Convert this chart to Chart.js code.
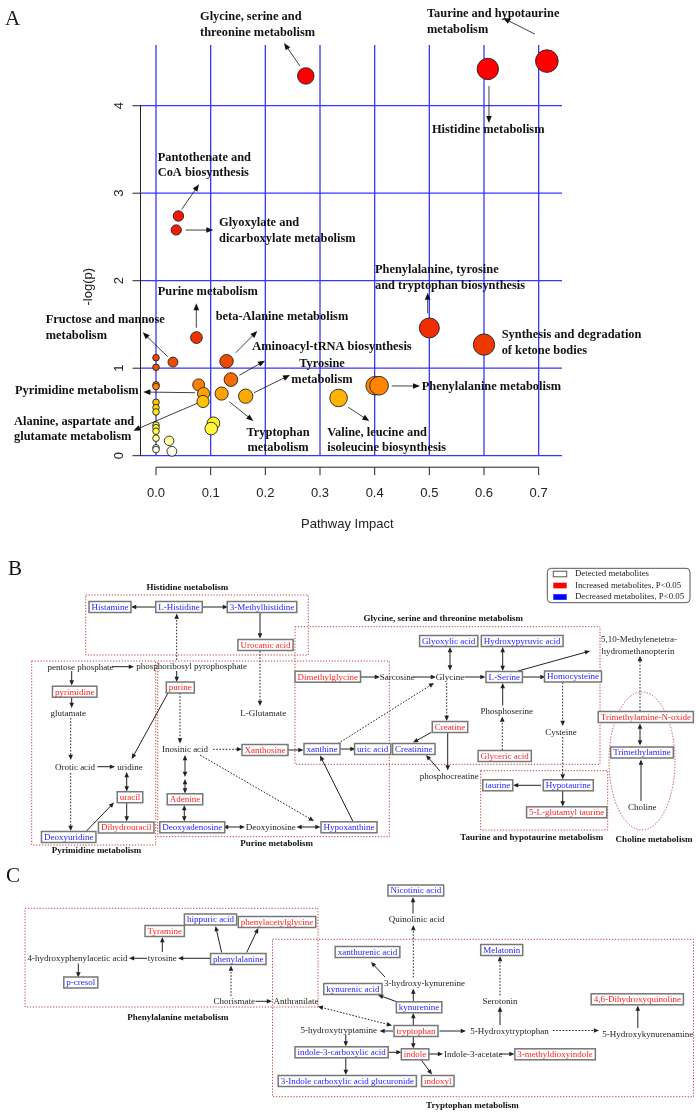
<!DOCTYPE html>
<html>
<head>
<meta charset="utf-8">
<title>Pathway analysis and metabolic networks</title>
<script src="https://cdn.jsdelivr.net/npm/chart.js@4.4.1/dist/chart.umd.min.js"></script>
<style>
  html, body { margin: 0; padding: 0; background: #fff; }
  body { width: 697px; height: 1114px; position: relative; overflow: hidden; }
  canvas { position: absolute; left: 0; }
  #chartA { top: 0; }
  #chartB { top: 555px; }
  #chartC { top: 860px; }
</style>
</head>
<body>
<canvas id="chartA" width="697" height="555"></canvas>
<canvas id="chartB" width="697" height="305"></canvas>
<canvas id="chartC" width="697" height="254"></canvas>
<script>
// =========================================
// Panel A data: pathway impact vs -log(p)
// =========================================
const impact = [0.715, 0.607, 0.274, 0.041, 0.037, 0.500, 0.074, 0.600, 0.129, 0.031,
  0.137, 0.078, 0.087, 0.086, 0.120, 0.164, 0.334, 0.401, 0.408, 0.105, 0.101,
  0, 0, 0, 0, 0, 0, 0, 0, 0, 0, 0, 0, 0, 0.024, 0.029];
const negLogP = [4.51, 4.42, 4.34, 2.74, 2.58, 1.46, 1.35, 1.27, 1.08, 1.07,
  0.87, 0.81, 0.71, 0.62, 0.71, 0.68, 0.66, 0.80, 0.80, 0.37, 0.31,
  1.12, 1.01, 0.81, 0.79, 0.61, 0.55, 0.50, 0.35, 0.32, 0.28, 0.20, 0.09, 0.07, 0.17, 0.05];
const xTicks = [0, 0.1, 0.2, 0.3, 0.4, 0.5, 0.6, 0.7];
const xTickLabels = ['0.0', '0.1', '0.2', '0.3', '0.4', '0.5', '0.6', '0.7'];
const yTicks = [0, 1, 2, 3, 4];

// labels with arrows, in data units: [lines, x, y, align, arrow]
const pathwayLabels = [
  [['Glycine, serine and', 'threonine metabolism'], 0.0805, 5.014, 'left', [0.2634, 4.454, 0.2341, 4.717]],
  [['Taurine and hypotaurine', 'metabolism'], 0.4957, 5.05, 'left', [0.6932, 4.819, 0.6347, 5.002]],
  [['Histidine metabolism'], 0.5048, 3.722, 'left', [0.6091, 4.225, 0.6091, 3.802]],
  [['Pantothenate and', 'CoA biosynthesis'], 0.0031, 3.406, 'left', [0.047, 2.816, 0.0787, 3.102]],
  [['Glyoxylate and', 'dicarboxylate metabolism'], 0.1152, 2.663, 'left', [0.0543, 2.579, 0.1048, 2.579]],
  [['Purine metabolism'], 0.0031, 1.879, 'left', [0.0737, 1.463, 0.0737, 1.742]],
  [['Fructose and mannose', 'metabolism'], -0.2018, 1.551, 'left', [0.0214, 1.131, -0.0243, 1.410]],
  [['beta-Alanine metabolism'], 0.1092, 1.589, 'left', [0.1458, 1.177, 0.1853, 1.425]],
  [['Aminoacyl-tRNA biosynthesis'], 0.1761, 1.239, 'left', [0.1524, 0.919, 0.1994, 1.086]],
  [['Tyrosine', 'metabolism'], 0.3036, 1.048, 'center', [0.1793, 0.72, 0.2451, 0.922]],
  [['Pyrimidine metabolism'], -0.2579, 0.743, 'left', [0.0713, 0.72, -0.0232, 0.728]],
  [['Alanine, aspartate and', 'glutamate metabolism'], -0.2597, 0.389, 'left', [0.0755, 0.599, -0.0415, 0.286]],
  [['Tryptophan', 'metabolism'], 0.2232, 0.263, 'center', [0.1341, 0.617, 0.178, 0.397]],
  [['Valine, leucine and', 'isoleucine biosynthesis'], 0.3133, 0.263, 'left', [0.3517, 0.553, 0.3902, 0.397]],
  [['Phenylalanine, tyrosine', 'and tryptophan biosynthesis'], 0.4006, 2.122, 'left', [0.497, 1.627, 0.497, 1.863]],
  [['Synthesis and degradation', 'of ketone bodies'], 0.6323, 1.379, 'left', null],
  [['Phenylalanine metabolism'], 0.486, 0.789, 'left', [0.4311, 0.797, 0.4829, 0.797]]
];

// =========================================
// Panel B network: [name, x, y, kind]
// kind: inc = increased (red), dec = decreased (blue), txt = detected/other
// =========================================
const nodesB = [
  ['Histamine', 110, 607, 'dec'], ['L-Histidine', 179, 607, 'dec'],
  ['3-Methylhistidine', 262, 607, 'dec'], ['Urocanic acid', 265.5, 645, 'inc'],
  ['pentose phosphate', 80.5, 666.7, 'txt'], ['phosphoribosyl pyrophosphate', 191.7, 666, 'txt'],
  ['pyrimidine', 74.7, 691.7, 'inc'], ['purine', 180.3, 687.5, 'inc'],
  ['glutamate', 68.3, 713.3, 'txt'], ['L-Glutamate', 263.3, 713.3, 'txt'],
  ['Orotic acid', 75, 766.7, 'txt'], ['uridine', 130, 766.7, 'txt'],
  ['uracil', 130, 797.2, 'inc'], ['Dihydrouracil', 126.2, 827.5, 'inc'],
  ['Deoxyuridine', 68.7, 837, 'dec'], ['Inosinic acid', 185, 749.3, 'txt'],
  ['Xanthosine', 265, 750, 'inc'], ['xanthine', 322, 749, 'dec'],
  ['uric acid', 372.7, 749, 'dec'], ['Adenine', 185, 799.3, 'inc'],
  ['Deoxyadenosine', 192.3, 827.3, 'dec'], ['Deoxyinosine', 270.7, 827, 'txt'],
  ['Hypoxanthine', 349, 827.3, 'dec'], ['Dimethylglycine', 327.8, 676.7, 'inc'],
  ['Sarcosine', 397.3, 677, 'txt'], ['Glycine', 450, 677, 'txt'],
  ['L-Serine', 504.2, 677, 'dec'], ['Homocysteine', 573, 676.5, 'dec'],
  ['Glyoxylic acid', 448.7, 641, 'dec'], ['Hydroxypyruvic acid', 522.2, 641, 'dec'],
  ['5,10-Methylenetetra-', 639, 639.3, 'txt'], ['hydromethanopterin', 638, 650.7, 'txt'],
  ['Creatine', 450, 727, 'inc'], ['Creatinine', 413.8, 749, 'dec'],
  ['phosphocreatine', 449.3, 776, 'txt'], ['Phosphoserine', 506.7, 711, 'txt'],
  ['Glyceric acid', 504.7, 756, 'inc'], ['Cysteine', 561, 731.7, 'txt'],
  ['Hypotaurine', 568.3, 785.3, 'dec'], ['taurine', 497.8, 785.3, 'dec'],
  ['5-L-glutamyl taurine', 566.7, 812.3, 'inc'], ['Trimethylamine-N-oxide', 645.8, 717, 'inc'],
  ['Trimethylamine', 642, 752.5, 'dec'], ['Choline', 642.3, 806.7, 'txt']
];
// [x1, y1, x2, y2, type] s = solid, d = dotted, ss / dd = double headed
const edgesB = [
  [156, 607, 131, 607, 's'], [202, 607, 228, 607, 's'], [260, 613, 260, 638.5, 's'],
  [260, 651, 260, 706, 'd'], [176.7, 660, 176.7, 613.5, 'd'], [112, 666.7, 134, 666.7, 's'],
  [71.7, 671, 71.7, 685.5, 's'], [176.7, 671, 176.7, 682, 's'], [71.7, 697.5, 71.7, 708, 's'],
  [70.7, 718, 70.7, 760, 'd'], [97.3, 766.7, 115, 766.7, 's'], [168.3, 692.5, 131.7, 759, 's'],
  [180, 693, 180, 743.5, 'd'], [213, 749.3, 242, 749.3, 'd'], [287.3, 750, 303.5, 750, 's'],
  [340.5, 749, 355.5, 749, 's'], [338, 743.5, 434, 683, 'd'], [353, 821.5, 320, 755.5, 's'],
  [200, 755, 314, 821, 'd'], [185, 755, 185, 777, 'ss'], [185, 779, 185, 793.5, 'ss'],
  [184.3, 805, 184.3, 821.5, 'ss'], [223, 827, 245, 827, 'ss'], [296.5, 827, 320.5, 827, 'ss'],
  [70.7, 773, 70.7, 831, 'd'], [86, 831.5, 114, 802.5, 's'], [126.7, 772, 126.7, 791.5, 'ss'],
  [126.7, 802.5, 126.7, 821.5, 's'], [359.5, 677, 380, 677, 's'], [413.5, 677, 436, 677, 's'],
  [464.5, 677, 485.5, 677, 's'], [522.5, 677, 545.5, 677, 's'], [450, 647, 450, 670.5, 'ss'],
  [502.7, 647, 502.7, 671, 'ss'], [518, 671, 590, 651, 's'], [446.7, 683, 446.7, 721, 'd'],
  [562.7, 682.5, 562.7, 726, 'd'], [562.7, 737, 562.7, 779.5, 'd'], [502.7, 705.5, 502.7, 683, 's'],
  [502.3, 750, 502.3, 716.5, 'd'], [431.5, 732.3, 413, 742.5, 's'], [447.7, 733, 447.7, 770.5, 's'],
  [440, 771, 426, 755, 's'], [541, 785.3, 513, 785.3, 's'], [562.7, 790.5, 562.7, 806.5, 's'],
  [640, 711, 640, 656, 'd'], [640, 723.5, 640, 745.5, 'ss'], [641, 801, 641, 759.5, 's']
];
const titlesB = [
  ['Histidine metabolism', 187.3, 587.7], ['Glycine, serine and threonine metabolism', 443.3, 618.3],
  ['Pyrimidine metabolism', 96.5, 851], ['Purine metabolism', 276.7, 844],
  ['Taurine and hypotaurine metabolism', 531.7, 837.7], ['Choline metabolism', 654, 839.3]
];
const regionsB = [
  [85.7, 595, 308.3, 655], [31.7, 661, 155.7, 845], [157.7, 661, 389.3, 836.7],
  [295, 626.7, 600, 764.3], [480.7, 770.7, 607.7, 830]
];
const ovalsB = [[642, 761, 33, 69]];
const legendLabels = ['Detected metabolites', 'Increased metabolites, P<0.05', 'Decreased metabolites, P<0.05'];

// =========================================
// Panel C network
// =========================================
const nodesC = [
  ['hippuric acid', 210.5, 919.5, 'dec'], ['phenylacetylglycine', 277, 922, 'inc'],
  ['Tyramine', 164.7, 931, 'inc'], ['phenylalanine', 238.3, 959, 'dec'],
  ['p-cresol', 80.8, 982.5, 'dec'], ['4-hydroxyphenylacetic acid', 77.5, 958.3, 'txt'],
  ['tyrosine', 162.3, 958.3, 'txt'], ['Chorismate', 234.2, 1001.3, 'txt'],
  ['Anthranilate', 296, 1001.3, 'txt'], ['Nicotinic acid', 415.8, 890.5, 'dec'],
  ['Quinolinic acid', 416.7, 919.3, 'txt'], ['xanthurenic acid', 367.5, 952, 'dec'],
  ['Melatonin', 501.7, 950, 'dec'], ['3-hydroxy-kynurenine', 424.4, 983.3, 'txt'],
  ['kynurenic acid', 352.9, 989, 'dec'], ['kynurenine', 419.1, 1007.3, 'dec'],
  ['Serotonin', 500, 1001, 'txt'], ['4,6-Dihydroxyquinoline', 637.3, 999.3, 'inc'],
  ['tryptophan', 416, 1031, 'inc'], ['5-hydroxytryptamine', 338.7, 1030.3, 'txt'],
  ['5-Hydroxytryptophan', 509.6, 1031, 'txt'], ['5-Hydroxykynurenamine', 647.8, 1034, 'txt'],
  ['indole-3-carboxylic acid', 341.6, 1052.3, 'dec'], ['indole', 415.1, 1054.3, 'inc'],
  ['Indole-3-acetate', 473.3, 1054, 'txt'], ['3-methyldioxyindole', 555.1, 1054.3, 'inc'],
  ['3-Indole carboxylic acid glucuronide', 347.3, 1081, 'dec'], ['indoxyl', 437.8, 1081, 'inc']
];
const edgesC = [
  [147, 958.3, 129, 958.3, 's'], [162.3, 952, 162.3, 937, 's'], [210, 958.3, 178, 958.3, 's'],
  [221.7, 952.5, 215.5, 926, 's'], [246.7, 952.5, 258.3, 928, 's'], [78.3, 963.5, 78.3, 977.5, 's'],
  [231, 996, 231, 965.5, 'd'], [255.6, 1001.3, 272, 1001.3, 's'], [317.8, 1006.5, 392, 1025.5, 'dd'],
  [385, 977, 371, 962, 's'], [413.3, 977.5, 413.3, 925, 'd'], [413, 913.5, 413, 897, 's'],
  [500, 995.5, 500, 956, 'd'], [413.3, 1001.5, 413.3, 988.5, 's'], [397.5, 1002, 378, 995, 's'],
  [413.3, 1025.5, 413.3, 1013, 's'], [393, 1031, 379.5, 1031, 's'], [439.5, 1031, 466, 1031, 's'],
  [500, 1025, 500, 1006.5, 's'], [553, 1030.5, 599, 1030.5, 'd'], [637.8, 1028, 637.8, 1005.5, 's'],
  [345.8, 1034.5, 345.8, 1046.5, 's'], [388, 1052.3, 401.5, 1052.3, 's'], [413.3, 1036.5, 413.3, 1048.5, 's'],
  [428.5, 1054, 443, 1054, 's'], [500, 1054, 514.5, 1054, 's'], [345.8, 1058, 345.8, 1075, 's'],
  [421.3, 1060, 432, 1074.5, 's']
];
const titlesC = [['Phenylalanine metabolism', 177.8, 1017.3], ['Tryptophan metabolism', 472.4, 1106]];
const regionsC = [[25, 908.3, 318, 1007], [272.5, 939.3, 693.5, 1096.7]];

// =========================================
// Helpers
// =========================================
const SERIF = '"Liberation Serif", "Times New Roman", serif';
const SANS = '"Liberation Sans", Arial, sans-serif';
const COLORS = { inc: '#ff1e1e', dec: '#2222ff', txt: '#222' };

const heatStops = [[0.05, [255, 255, 236]], [0.17, [255, 255, 168]], [0.28, [255, 250, 60]],
  [0.5, [255, 226, 20]], [0.6, [255, 200, 0]], [0.68, [255, 170, 0]], [0.8, [255, 132, 0]],
  [0.9, [245, 96, 0]], [1.1, [238, 70, 0]], [1.4, [240, 46, 0]], [2.7, [245, 25, 5]], [4.3, [255, 0, 0]]];
function heat(v) {
  if (v <= heatStops[0][0]) return 'rgb(' + heatStops[0][1] + ')';
  for (let i = 1; i < heatStops.length; i++) {
    const [v1, c1] = heatStops[i];
    const [v0, c0] = heatStops[i - 1];
    if (v <= v1) {
      const t = (v - v0) / (v1 - v0);
      return 'rgb(' + c0.map((c, k) => Math.round(c + (c1[k] - c) * t)).join(',') + ')';
    }
  }
  return 'rgb(255,0,0)';
}

function arrowHead(ctx, x, y, ang, hl, hw) {
  const c = Math.cos(ang), s = Math.sin(ang);
  ctx.beginPath();
  ctx.moveTo(x, y);
  ctx.lineTo(x - hl * c + hw * s, y - hl * s - hw * c);
  ctx.lineTo(x - hl * c - hw * s, y - hl * s + hw * c);
  ctx.closePath();
  ctx.fill();
}
function arrow(ctx, x1, y1, x2, y2, dotted, both, hl, hw) {
  const ang = Math.atan2(y2 - y1, x2 - x1);
  const c = Math.cos(ang), s = Math.sin(ang);
  const sx = both ? x1 + c * hl * 0.7 : x1, sy = both ? y1 + s * hl * 0.7 : y1;
  ctx.setLineDash(dotted ? [1.6, 1.6] : []);
  ctx.beginPath();
  ctx.moveTo(sx, sy);
  ctx.lineTo(x2 - c * hl * 0.7, y2 - s * hl * 0.7);
  ctx.stroke();
  ctx.setLineDash([]);
  arrowHead(ctx, x2, y2, ang, hl, hw);
  if (both) arrowHead(ctx, x1, y1, ang + Math.PI, hl, hw);
}

// =========================================
// Panel A: bubble chart
// =========================================
const axesA = {
  id: 'axesA',
  beforeDatasetsDraw(chart) {
    const { ctx, chartArea: a, scales: { x, y } } = chart;
    ctx.save();
    // blue grid
    ctx.strokeStyle = '#3636ff';
    ctx.lineWidth = 1.3;
    xTicks.forEach(t => {
      const px = x.getPixelForValue(t);
      ctx.beginPath(); ctx.moveTo(px, a.top); ctx.lineTo(px, a.bottom); ctx.stroke();
    });
    yTicks.forEach(t => {
      const py = y.getPixelForValue(t);
      ctx.beginPath(); ctx.moveTo(a.left, py); ctx.lineTo(a.right, py); ctx.stroke();
    });
    // R style axes
    ctx.strokeStyle = '#222';
    ctx.lineWidth = 1;
    ctx.fillStyle = '#222';
    const ax = a.left + 0.5;
    ctx.beginPath(); ctx.moveTo(ax, y.getPixelForValue(0)); ctx.lineTo(ax, y.getPixelForValue(4)); ctx.stroke();
    ctx.font = '13px ' + SANS;
    ctx.textAlign = 'center';
    ctx.textBaseline = 'middle';
    yTicks.forEach(t => {
      const py = y.getPixelForValue(t);
      ctx.beginPath(); ctx.moveTo(ax - 8, py); ctx.lineTo(ax, py); ctx.stroke();
      ctx.save(); ctx.translate(a.left - 21, py); ctx.rotate(-Math.PI / 2); ctx.fillText(String(t), 0, 0); ctx.restore();
    });
    const ay = a.bottom + 11.5;
    ctx.beginPath(); ctx.moveTo(x.getPixelForValue(0), ay); ctx.lineTo(x.getPixelForValue(0.7), ay); ctx.stroke();
    xTicks.forEach((t, i) => {
      const px = x.getPixelForValue(t);
      ctx.beginPath(); ctx.moveTo(px, ay); ctx.lineTo(px, ay + 8); ctx.stroke();
      ctx.fillText(xTickLabels[i], px, ay + 26);
    });
    ctx.fillText('Pathway Impact', (x.getPixelForValue(0) + x.getPixelForValue(0.7)) / 2, ay + 57);
    ctx.save(); ctx.translate(a.left - 52, (y.getPixelForValue(0) + y.getPixelForValue(4)) / 2 + 6);
    ctx.rotate(-Math.PI / 2); ctx.fillText('-log(p)', 0, 0); ctx.restore();
    // panel letter
    ctx.font = '21px ' + SERIF;
    ctx.textAlign = 'left';
    ctx.fillText('A', 5, 19);
    ctx.restore();
  },
  afterDatasetsDraw(chart) {
    const { ctx, scales: { x, y } } = chart;
    ctx.save();
    ctx.fillStyle = '#111';
    ctx.strokeStyle = '#111';
    ctx.lineWidth = 0.8;
    ctx.font = 'bold 12.4px ' + SERIF;
    ctx.textBaseline = 'middle';
    pathwayLabels.forEach(([lines, lx, ly, align, arr]) => {
      ctx.textAlign = align;
      const px = x.getPixelForValue(lx), py = y.getPixelForValue(ly);
      lines.forEach((t, i) => ctx.fillText(t, px, py + i * 15.6));
      if (arr) arrow(ctx, x.getPixelForValue(arr[0]), y.getPixelForValue(arr[1]),
        x.getPixelForValue(arr[2]), y.getPixelForValue(arr[3]), false, false, 7, 2.8);
    });
    ctx.restore();
  }
};

new Chart(document.getElementById('chartA'), {
  type: 'bubble',
  data: {
    datasets: [{
      data: impact.map((v, i) => ({ x: v, y: negLogP[i], r: 3.3 + 9.5 * Math.sqrt(v) })),
      backgroundColor: c => heat(negLogP[c.dataIndex]),
      borderColor: '#222',
      borderWidth: 0.9,
      clip: false
    }]
  },
  options: {
    responsive: false,
    animation: false,
    devicePixelRatio: 1,
    layout: { padding: { left: 140, right: 135, top: 45, bottom: 99.3 } },
    scales: {
      x: { type: 'linear', min: -0.0293, max: 0.7427, display: false },
      y: { type: 'linear', min: 0, max: 4.694, display: false }
    },
    plugins: { legend: { display: false }, tooltip: { enabled: false } }
  },
  plugins: [axesA]
});

// =========================================
// Panels B and C: metabolic networks
// =========================================
function networkPlugin(spec) {
  return {
    id: 'network' + spec.letter,
    afterDatasetsDraw(chart) {
      const { ctx, scales: { x, y } } = chart;
      const X = v => x.getPixelForValue(v), Y = v => y.getPixelForValue(v);
      ctx.save();
      // pathway regions
      ctx.strokeStyle = '#c04848';
      ctx.lineWidth = 1;
      ctx.setLineDash([1.3, 1.6]);
      spec.regions.forEach(([x1, y1, x2, y2]) => ctx.strokeRect(X(x1), Y(y1), X(x2) - X(x1), Y(y2) - Y(y1)));
      (spec.ovals || []).forEach(([cx, cy, rx, ry]) => {
        ctx.beginPath(); ctx.ellipse(X(cx), Y(cy), rx, ry, 0, 0, Math.PI * 2); ctx.stroke();
      });
      ctx.setLineDash([]);
      // reactions
      ctx.strokeStyle = '#222';
      ctx.fillStyle = '#222';
      ctx.lineWidth = 1;
      spec.edges.forEach(([x1, y1, x2, y2, t]) =>
        arrow(ctx, X(x1), Y(y1), X(x2), Y(y2), t[0] === 'd', t.length === 2, 5.2, 2.3));
      // metabolites
      ctx.font = '9px ' + SERIF;
      ctx.textAlign = 'center';
      ctx.textBaseline = 'middle';
      spec.nodes.forEach(([name, nx, ny, kind]) => {
        const px = X(nx), py = Y(ny);
        if (kind !== 'txt') {
          const w = ctx.measureText(name).width + 5;
          ctx.fillStyle = '#fff';
          ctx.fillRect(px - w / 2, py - 5.5, w, 11);
          ctx.strokeStyle = '#777';
          ctx.lineWidth = 1.5;
          ctx.strokeRect(px - w / 2, py - 5.5, w, 11);
        }
        ctx.fillStyle = COLORS[kind];
        ctx.fillText(name, px, py + 0.5);
      });
      // pathway titles
      ctx.fillStyle = '#111';
      ctx.font = 'bold 9px ' + SERIF;
      spec.titles.forEach(([t, tx, ty]) => ctx.fillText(t, X(tx), Y(ty)));
      // panel letter
      ctx.font = '21px ' + SERIF;
      ctx.textAlign = 'left';
      ctx.fillText(spec.letter, X(spec.letterPos[0]), Y(spec.letterPos[1]));
      // legend
      if (spec.legend) {
        const lx = X(547.3), ly = Y(568.3);
        ctx.strokeStyle = '#555';
        ctx.lineWidth = 1;
        ctx.beginPath(); ctx.roundRect(lx, ly, X(690) - lx, Y(602.7) - ly, 4); ctx.stroke();
        const fills = ['#fff', '#ff0000', '#0000ff'];
        ctx.font = '8.8px ' + SERIF;
        spec.legend.forEach((t, i) => {
          const ry = Y(574 + i * 11.5);
          ctx.fillStyle = fills[i];
          ctx.fillRect(X(553.3), ry - 2.8, 13.4, 5.6);
          if (i === 0) { ctx.strokeStyle = '#555'; ctx.strokeRect(X(553.3), ry - 2.8, 13.4, 5.6); }
          ctx.fillStyle = '#222';
          ctx.fillText(t, X(575), ry);
        });
      }
      ctx.restore();
    }
  };
}

function networkChart(id, top, height, spec) {
  return new Chart(document.getElementById(id), {
    type: 'scatter',
    data: { datasets: [{ data: spec.nodes.map(n => ({ x: n[1], y: n[2] })), pointRadius: 0 }] },
    options: {
      responsive: false,
      animation: false,
      devicePixelRatio: 1,
      layout: { padding: 0 },
      scales: {
        x: { type: 'linear', min: 0, max: 697, display: false },
        y: { type: 'linear', min: top, max: top + height, reverse: true, display: false }
      },
      plugins: { legend: { display: false }, tooltip: { enabled: false } }
    },
    plugins: [networkPlugin(spec)]
  });
}

networkChart('chartB', 555, 305, {
  letter: 'B', letterPos: [8, 569], nodes: nodesB, edges: edgesB, titles: titlesB,
  regions: regionsB, ovals: ovalsB, legend: legendLabels
});
networkChart('chartC', 860, 254, {
  letter: 'C', letterPos: [6, 876], nodes: nodesC, edges: edgesC, titles: titlesC, regions: regionsC
});
</script>
</body>
</html>
